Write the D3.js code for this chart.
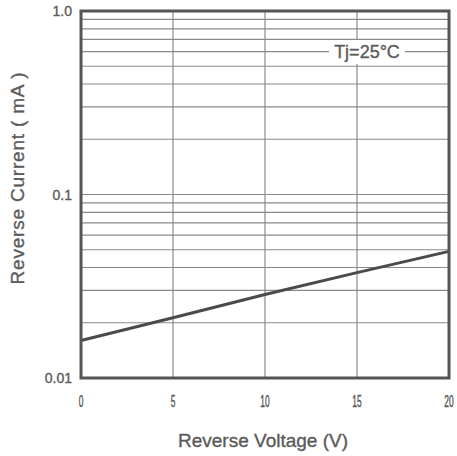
<!DOCTYPE html>
<html>
<head>
<meta charset="utf-8">
<script src="https://cdn.jsdelivr.net/npm/d3@7"></script>
<style>
  body { margin: 0; background: #fff; }
  svg text { fill: #5a5a5a; stroke: #5a5a5a; stroke-width: 0.35px; font-family: Arial, "Liberation Sans", sans-serif; }
</style>
</head>
<body>
<svg id="chart" width="457" height="456"></svg>
<script>
// reverse voltage (V) vs reverse current (mA), Tj = 25°C
const voltage = [0, 5, 10, 15, 20];
const current = [0.016, 0.0213, 0.0285, 0.0375, 0.049];

const xTicks = [0, 5, 10, 15, 20];
const yTicks = [0.01, 0.1, 1.0];
const yTickLabels = ["0.01", "0.1", "1.0"];

const svg = d3.select("#chart");
const plotLeft = 81, plotRight = 449, plotTop = 11, plotBottom = 378;

const x = d3.scaleLinear().domain([0, 20]).range([plotLeft, plotRight]);
const y = d3.scaleLog().domain([0.01, 1]).range([plotBottom, plotTop]);

// horizontal grid (log minor lines)
const hLines = [];
[0.01, 0.1].forEach(dec => {
    for (let i = 1; i <= 9; i++) hLines.push(dec * i);
});
svg.append("g")
    .selectAll("line")
    .data(hLines.filter(v => v > 0.01))
    .join("line")
    .attr("x1", plotLeft).attr("x2", plotRight)
    .attr("y1", d => y(d)).attr("y2", d => y(d))
    .attr("stroke", "#8a8a8a")
    .attr("stroke-width", 1.2);

// vertical grid
svg.append("g")
    .selectAll("line")
    .data(xTicks.slice(1, -1))
    .join("line")
    .attr("x1", d => x(d)).attr("x2", d => x(d))
    .attr("y1", plotTop).attr("y2", plotBottom)
    .attr("stroke", "#8a8a8a")
    .attr("stroke-width", 1.2);

// Tj label with white box
svg.append("rect")
    .attr("x", 329).attr("y", 40).attr("width", 76).attr("height", 24)
    .attr("fill", "#fff");
svg.append("text")
    .attr("x", 367).attr("y", 58)
    .attr("text-anchor", "middle")
    .style("font-size", "18px")
    .text("Tj=25°C");

// curve
const line = d3.line()
    .x((d, i) => x(voltage[i]))
    .y(d => y(d));
svg.append("path")
    .datum(current)
    .attr("d", line)
    .attr("fill", "none")
    .attr("stroke", "#4a4a4a")
    .attr("stroke-width", 3);

// frame
svg.append("rect")
    .attr("x", plotLeft).attr("y", plotTop)
    .attr("width", plotRight - plotLeft).attr("height", plotBottom - plotTop)
    .attr("fill", "none")
    .attr("stroke", "#555")
    .attr("stroke-width", 3);

// y tick labels
svg.append("g")
    .selectAll("text")
    .data(yTicks)
    .join("text")
    .attr("x", plotLeft - 9)
    .attr("y", d => y(d) + 5)
    .attr("text-anchor", "end")
    .style("font-size", "14px")
    .text((d, i) => yTickLabels[i]);

// x tick labels (narrow, tall glyphs)
svg.append("g")
    .selectAll("text")
    .data(xTicks)
    .join("text")
    .attr("text-anchor", "middle")
    .attr("transform", d => `translate(${Math.min(x(d), 450)},407) scale(0.7,1.3)`)
    .style("font-size", "12px")
    .text(d => d);

// axis titles
svg.append("text")
    .attr("x", 263).attr("y", 447)
    .attr("text-anchor", "middle")
    .style("font-size", "19px")
    .text("Reverse Voltage (V)");

svg.append("text")
    .attr("transform", "translate(24,178) rotate(-90)")
    .attr("text-anchor", "middle")
    .style("font-size", "19px")
    .style("letter-spacing", "0.8px")
    .text("Reverse Current ( mA )");
</script>
</body>
</html>
